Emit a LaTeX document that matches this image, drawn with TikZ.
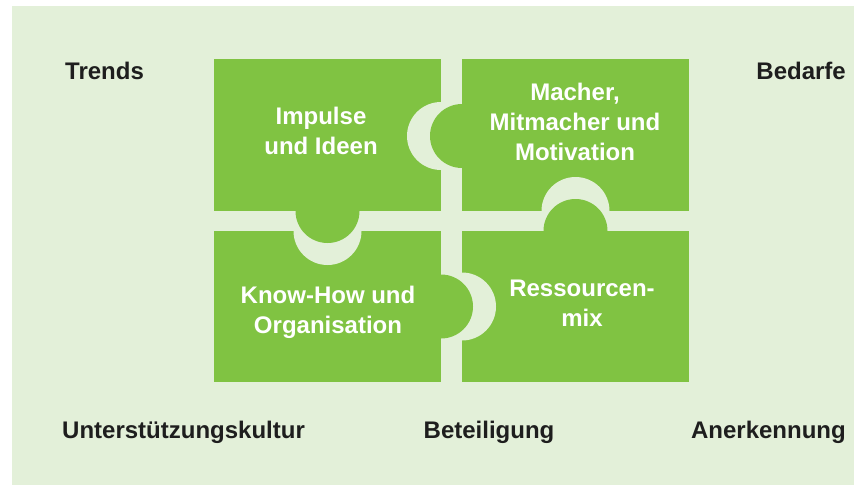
\documentclass[tikz,border=0pt]{standalone}
\usepackage{fontspec}
\setmainfont{Liberation Sans}
\definecolor{pgreen}{RGB}{128,195,66}
\definecolor{plight}{RGB}{227,240,217}
\definecolor{ptext}{RGB}{30,30,30}
\begin{document}
\begin{tikzpicture}[x=1pt,y=-1pt,
  piece/.style={fill=pgreen},
  hole/.style={fill=plight},
  tab/.style={fill=pgreen},
  intext/.style={text=white,font=\bfseries\fontsize{24}{30}\selectfont,align=center,inner sep=0pt},
  outtext/.style={text=ptext,font=\bfseries\fontsize{24}{28}\selectfont,inner sep=0pt}]
\useasboundingbox (0,0) rectangle (854,485);
\fill[white] (0,0) rectangle (854,485);
\fill[plight] (12,6) rectangle (854,485);
% pieces
\fill[piece] (214,59) rectangle (441,211);
\fill[piece] (462,59) rectangle (689,211);
\fill[piece] (214,231) rectangle (441,382);
\fill[piece] (462,231) rectangle (689,382);
% holes
\fill[hole] (441,136) circle (34);
\fill[hole] (327.5,231) circle (34);
\fill[hole] (575.5,211) circle (34);
\fill[hole] (462,306.5) circle (34);
% tabs
\fill[tab] (462,136) circle (32);
\fill[tab] (327.5,211) circle (32);
\fill[tab] (575.5,231) circle (32);
\fill[tab] (441,306.5) circle (32);
% texts
\node[intext] (impulse) at (321,131) {Impulse\\und Ideen};
\node[intext] (macher) at (575,122) {Macher,\\Mitmacher und\\Motivation};
\node[intext] (know) at (328,312) {Know-How und\\Organisation};
\node[intext] (ress) at (582,303) {Ressourcen-\\mix};
\node[outtext,anchor=west] (trends) at (65,71) {Trends};
\node[outtext,anchor=east] (bedarfe) at (846,71) {Bedarfe};
\node[outtext,anchor=west] (unter) at (62,432) {Unterstützungskultur};
\node[outtext] (beteil) at (489,432) {Beteiligung};
\node[outtext,anchor=east] (anerk) at (846,432) {Anerkennung};
\end{tikzpicture}
\end{document}
